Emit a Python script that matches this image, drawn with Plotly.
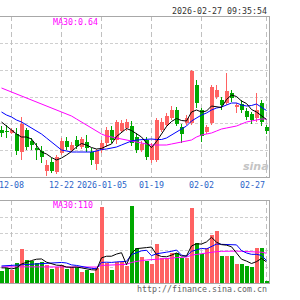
import plotly.graph_objects as go

dates = ["2025-12-04","2025-12-05","2025-12-08","2025-12-09","2025-12-10","2025-12-11","2025-12-12",
         "2025-12-15","2025-12-16","2025-12-17","2025-12-18","2025-12-19","2025-12-22","2025-12-23",
         "2025-12-24","2025-12-25","2025-12-26","2025-12-29","2025-12-30","2025-12-31","2026-01-05",
         "2026-01-06","2026-01-07","2026-01-08","2026-01-09","2026-01-12","2026-01-13","2026-01-14",
         "2026-01-15","2026-01-16","2026-01-19","2026-01-20","2026-01-21","2026-01-22","2026-01-23",
         "2026-01-26","2026-01-27","2026-01-28","2026-01-29","2026-01-30","2026-02-02","2026-02-03",
         "2026-02-04","2026-02-05","2026-02-06","2026-02-09","2026-02-10","2026-02-11","2026-02-12",
         "2026-02-13","2026-02-24","2026-02-25","2026-02-26","2026-02-27"]

open_ = [0.6356,0.6352,0.6344,0.6340,0.6268,0.6356,0.6312,0.6284,0.6272,0.6192,0.6228,0.6188,0.6264,0.6312,
         0.6276,0.6316,0.6288,0.6308,0.6268,0.6220,0.6276,0.6304,0.6356,0.6316,0.6352,0.6364,0.6372,0.6328,
         0.6276,0.6316,0.6236,0.6236,0.6356,0.6376,0.6404,0.6436,0.6368,0.6384,0.6384,0.6536,0.6436,0.6348,
         0.6384,0.6488,0.6476,0.6464,0.6504,0.6448,0.6460,0.6432,0.6420,0.6404,0.6464,0.6368]
high = [0.6372,0.6376,0.6364,0.6364,0.6408,0.6364,0.6324,0.6304,0.6292,0.6236,0.6244,0.6256,0.6324,0.6328,
        0.6308,0.6332,0.6328,0.6336,0.6284,0.6280,0.6316,0.6368,0.6372,0.6396,0.6396,0.6400,0.6392,0.6344,
        0.6312,0.6328,0.6304,0.6404,0.6404,0.6424,0.6452,0.6448,0.6380,0.6416,0.6596,0.6556,0.6444,0.6376,
        0.6536,0.6536,0.6488,0.6584,0.6516,0.6464,0.6476,0.6444,0.6428,0.6504,0.6476,0.6376]
low = [0.6328,0.6324,0.6340,0.6256,0.6236,0.6276,0.6276,0.6236,0.6224,0.6172,0.6184,0.6180,0.6256,0.6276,
       0.6268,0.6280,0.6280,0.6268,0.6216,0.6196,0.6264,0.6288,0.6304,0.6300,0.6344,0.6352,0.6292,0.6264,
       0.6268,0.6236,0.6224,0.6228,0.6348,0.6368,0.6396,0.6372,0.6304,0.6376,0.6376,0.6444,0.6308,0.6340,
       0.6376,0.6480,0.6436,0.6456,0.6468,0.6424,0.6424,0.6396,0.6380,0.6388,0.6372,0.6340]
close = [0.6344,0.6348,0.6356,0.6272,0.6380,0.6288,0.6296,0.6276,0.6248,0.6216,0.6192,0.6248,0.6312,0.6288,
         0.6296,0.6292,0.6320,0.6284,0.6236,0.6272,0.6304,0.6356,0.6316,0.6388,0.6384,0.6388,0.6304,0.6276,
         0.6300,0.6248,0.6292,0.6396,0.6388,0.6412,0.6436,0.6380,0.6340,0.6404,0.6592,0.6464,0.6332,0.6368,
         0.6528,0.6516,0.6456,0.6512,0.6484,0.6456,0.6436,0.6408,0.6396,0.6436,0.6388,0.6352]

ma5 = [0.6388,0.6372,0.6356,0.6340,0.6328,0.6328,0.6320,0.6292,0.6268,0.6260,0.6246,0.6236,0.6244,0.6256,
       0.6270,0.6288,0.6302,0.6296,0.6286,0.6280,0.6282,0.6292,0.6300,0.6330,0.6348,0.6362,0.6354,0.6342,
       0.6328,0.6304,0.6286,0.6310,0.6340,0.6370,0.6390,0.6402,0.6394,0.6392,0.6428,0.6436,0.6428,0.6432,
       0.6452,0.6448,0.6446,0.6478,0.6496,0.6490,0.6472,0.6462,0.6438,0.6428,0.6412,0.6398]
ma10 = [0.6428,0.6416,0.6408,0.6396,0.6388,0.6376,0.6364,0.6352,0.6340,0.6324,0.6308,0.6292,0.6276,0.6272,
        0.6268,0.6268,0.6268,0.6268,0.6268,0.6272,0.6278,0.6280,0.6284,0.6288,0.6296,0.6304,0.6312,0.6316,
        0.6318,0.6320,0.6320,0.6318,0.6318,0.6324,0.6336,0.6348,0.6360,0.6372,0.6392,0.6404,0.6416,0.6424,
        0.6436,0.6444,0.6448,0.6456,0.6464,0.6464,0.6456,0.6452,0.6454,0.6460,0.6448,0.6434]
ma30 = [0.6524,0.6516,0.6508,0.6500,0.6492,0.6484,0.6476,0.6468,0.6460,0.6452,0.6444,0.6436,0.6428,0.6420,
        0.6412,0.6400,0.6388,0.6376,0.6364,0.6352,0.6340,0.6332,0.6328,0.6324,0.6320,0.6316,0.6312,0.6308,
        0.6304,0.6300,0.6296,0.6296,0.6296,0.6296,0.6300,0.6304,0.6308,0.6312,0.6316,0.6328,0.6336,0.6340,
        0.6344,0.6352,0.6360,0.6364,0.6368,0.6372,0.6380,0.6388,0.6392,0.6396,0.6400,0.6400]

volume = [44,56,48,74,126,85,81,74,78,67,52,59,67,52,59,59,41,48,37,56,281,74,48,78,78,63,285,130,96,81,
          72,146,93,93,111,111,93,93,278,148,109,130,178,192,100,100,100,70,70,63,59,131,130,6]
vol_ma5 = [56,56,52,56,70,78,83,88,89,77,70,66,65,59,58,59,56,52,49,48,93,99,99,107,112,68,110,127,130,131,
           133,105,98,97,103,111,100,100,137,145,144,152,169,151,142,140,134,112,88,81,72,79,91,78]
vol_ma10 = [63,64,65,66,67,68,70,72,73,73,74,74,76,74,67,65,61,58,54,53,76,77,76,78,80,80,105,113,119,121,
            101,108,112,114,117,122,103,99,117,124,128,126,134,144,143,142,143,141,120,111,106,106,102,83]
vol_ma30 = [60,60,60,60,61,61,61,61,61,61,61,60,60,60,60,60,59,59,59,59,65,66,66,67,68,69,76,80,83,85,
            86,88,89,90,92,94,95,96,103,106,108,110,113,116,117,118,118,118,117,116,115,115,114,110]

label_dates = ["2025-12-08","2025-12-22","2026-01-05","2026-01-19","2026-02-02","2026-02-27"]
label_texts = ["12-08","12-22","2026-01-05","01-19","02-02","02-27"]
title_time = "2026-02-27 09:35:54"
ma30_text = "MA30:0.64"
vol_ma30_text = "MA30:110"
url_text = "http://finance.sina.com.cn"

RED = "#ff6262"
GREEN = "#00a800"
W, H = 300, 300
MONO = "DejaVu Sans Mono"

x = list(range(len(dates)))
up = [c >= o for o, c in zip(open_, close)]

def px_y(py):
    return 1 - py / H

fig = go.Figure()

# wicks
for flag, col in ((True, RED), (False, GREEN)):
    wx, wy = [], []
    for i in x:
        if up[i] == flag:
            wx += [i, i, None]
            wy += [low[i], high[i], None]
    fig.add_trace(go.Scatter(x=wx, y=wy, mode="lines", line=dict(color=col, width=1),
                             hoverinfo="skip", showlegend=False, xaxis="x", yaxis="y"))

# bodies
body_base = [min(o, c) for o, c in zip(open_, close)]
body_h = [max(abs(c - o), 0.0004) for o, c in zip(open_, close)]
fig.add_trace(go.Bar(x=x, y=body_h, base=body_base, width=0.8, offset=-0.3,
                     marker=dict(color=[RED if u else GREEN for u in up], line=dict(width=0)),
                     showlegend=False, xaxis="x", yaxis="y"))

for vals, col in ((ma30, "#ff00ff"), (ma10, "#0000ff"), (ma5, "#000000")):
    fig.add_trace(go.Scatter(x=x, y=vals, mode="lines", line=dict(color=col, width=1),
                             showlegend=False, xaxis="x", yaxis="y"))

# volume
fig.add_trace(go.Bar(x=x, y=volume, width=0.8, offset=-0.3,
                     marker=dict(color=[RED if u else GREEN for u in up], line=dict(width=0)),
                     showlegend=False, xaxis="x2", yaxis="y2"))
for vals, col in ((vol_ma30, "#ff00ff"), (vol_ma10, "#0000ff"), (vol_ma5, "#000000")):
    fig.add_trace(go.Scatter(x=x, y=vals, mode="lines", line=dict(color=col, width=1),
                             showlegend=False, xaxis="x2", yaxis="y2"))

xr = [-0.3, 53.5]
xdom = [0, 269 / W]
fig.update_layout(
    width=W, height=H, margin=dict(l=0, r=0, t=0, b=0),
    paper_bgcolor="white", plot_bgcolor="white", barmode="overlay", bargap=0,
    xaxis=dict(domain=xdom, range=xr, showticklabels=False, showgrid=False, zeroline=False,
               fixedrange=True),
    yaxis=dict(domain=[1 - 177 / H, 1 - 16 / H], range=[0.6168, 0.6812], showticklabels=False,
               showgrid=False, zeroline=False, fixedrange=True),
    xaxis2=dict(domain=xdom, range=xr, showticklabels=False, showgrid=False, zeroline=False,
                anchor="y2", fixedrange=True),
    yaxis2=dict(domain=[1 - 283 / H, 1 - 200 / H], range=[0, 307], showticklabels=False,
                showgrid=False, zeroline=False, anchor="x2", fixedrange=True),
)

shapes = []
grid = dict(color="#cfcfcf", width=1, dash="3px,2px")
border = dict(color="#a8a8a8", width=1)
# horizontal grid lines
for py in (43, 70, 97, 123, 150, 217, 233, 250, 267):
    shapes.append(dict(type="line", xref="paper", yref="paper", x0=0, x1=269.5 / W,
                       y0=px_y(py + 0.5), y1=px_y(py + 0.5), line=grid, layer="below"))
# vertical grid lines
for d in label_dates:
    i = dates.index(d)
    for top, bot in ((16, 177), (200, 283)):
        shapes.append(dict(type="line", xref="x", yref="paper", x0=i, x1=i,
                           y0=px_y(top), y1=px_y(bot), line=dict(color="#c0c0c0", width=1, dash="5px,3px"),
                           layer="below"))
# borders
for py in (16, 177, 200, 283):
    shapes.append(dict(type="line", xref="paper", yref="paper", x0=0, x1=270 / W,
                       y0=px_y(py + 0.5), y1=px_y(py + 0.5), line=border))
for top, bot in ((16, 177), (200, 283)):
    shapes.append(dict(type="line", xref="paper", yref="paper", x0=269.5 / W, x1=269.5 / W,
                       y0=px_y(top), y1=px_y(bot + 1), line=border))
fig.update_layout(shapes=shapes)

ann = []
for d, t in zip(label_dates, label_texts):
    i = dates.index(d)
    shift = -14 if d == label_dates[-1] else 0
    ann.append(dict(x=i, xref="x", y=px_y(185), yref="paper", text=t, showarrow=False,
                    xanchor="center", yanchor="middle", xshift=shift,
                    font=dict(family=MONO, size=8.3, color="#2a64c8")))
ann.append(dict(x=269 / W, y=px_y(11), xref="paper", yref="paper", text=title_time, showarrow=False,
                xanchor="right", yanchor="middle", font=dict(family=MONO, size=8.3, color="#333333")))
ann.append(dict(x=51 / W, y=px_y(22), xref="paper", yref="paper", text=ma30_text, showarrow=False,
                xanchor="left", yanchor="middle", font=dict(family=MONO, size=8.3, color="#ff00ff")))
ann.append(dict(x=51 / W, y=px_y(205), xref="paper", yref="paper", text=vol_ma30_text, showarrow=False,
                xanchor="left", yanchor="middle", font=dict(family=MONO, size=8.3, color="#ff00ff")))
ann.append(dict(x=269 / W, y=px_y(289), xref="paper", yref="paper", text=url_text, showarrow=False,
                xanchor="right", yanchor="middle", font=dict(family=MONO, size=8.3, color="#666666")))
ann.append(dict(x=256 / W, y=px_y(166), xref="paper", yref="paper", text="<i><b>sina</b></i>",
                showarrow=False, xanchor="center", yanchor="middle",
                font=dict(family="DejaVu Sans", size=11, color="#c4c4c4")))
fig.update_layout(annotations=ann)

fig.write_html("out.html")
